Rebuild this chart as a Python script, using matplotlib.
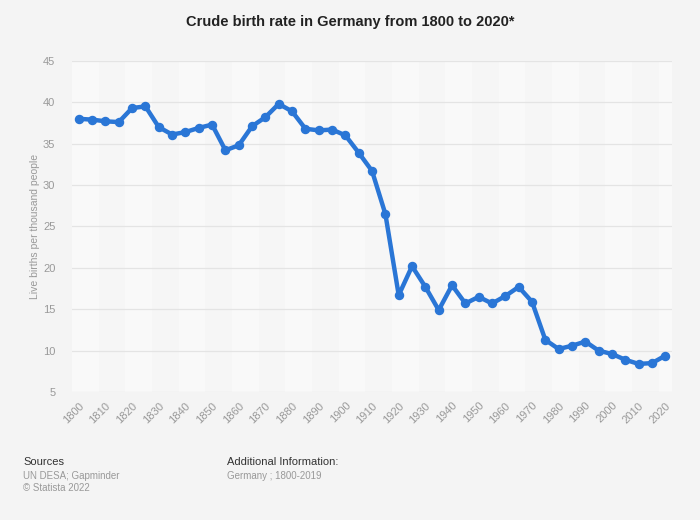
import numpy as np
import matplotlib.pyplot as plt

plt.rcParams['font.family'] = ['Liberation Sans', 'DejaVu Sans']

# -------------------------
# Data
# -------------------------
years = [str(y) for y in range(1800, 2021, 5)]
birth_rate = [38.0, 37.9, 37.7, 37.6, 39.3, 39.5, 37.0, 36.1, 36.4, 36.9,
              37.3, 34.2, 34.8, 37.1, 38.2, 39.8, 38.9, 36.8, 36.6, 36.7,
              36.0, 33.9, 31.7, 26.5, 16.7, 20.2, 17.7, 14.9, 17.9, 15.7,
              16.5, 15.7, 16.6, 17.7, 15.9, 11.3, 10.2, 10.6, 11.1, 10.0,
              9.6, 8.9, 8.4, 8.5, 9.4]
tick_labels = [str(y) for y in range(1800, 2021, 10)]

title = "Crude birth rate in Germany from 1800 to 2020*"
y_label = "Live births per thousand people"

# -------------------------
# Plot
# -------------------------
bg = "#f4f4f4"
line_color = "#2a76d6"

fig = plt.figure(figsize=(7, 5.2), dpi=100, facecolor=bg)
ax = fig.add_axes([0.103, 0.246, 0.857, 0.637])
ax.set_facecolor("#f6f6f6")

x = np.arange(len(years))

# faint alternating background bands
for i in range(0, len(years), 4):
    ax.axvspan(i - 0.5, i + 1.5, color="#f9f9f9", zorder=0, lw=0)

ax.plot(x, birth_rate, color=line_color, lw=3.2, marker="o", ms=5.8,
        zorder=3, solid_joinstyle="round")

ax.set_xlim(-0.5, len(years) - 0.5)
ax.set_ylim(5, 45)
ax.set_yticks(np.arange(5, 46, 5))
ax.set_xticks(x[::2])
ax.set_xticklabels(tick_labels, rotation=45, ha="right", va="top",
                   rotation_mode="anchor")

ax.grid(axis="y", color="#e4e4e4", lw=0.9, zorder=1)
ax.set_axisbelow(True)
for s in ax.spines.values():
    s.set_visible(False)
ax.tick_params(axis="both", length=0, labelsize=8, colors="#999999", pad=6)
ax.tick_params(axis="y", pad=12)

ax.set_ylabel(y_label, fontsize=7.5, color="#999999", labelpad=2)

fig.text(0.5, 0.957, title, ha="center", va="center", fontsize=10.5,
         fontweight="bold", color="#222222")

# footer
fig.text(0.033, 0.105, "Sources", fontsize=8, color="#333333")
fig.text(0.033, 0.079, "UN DESA; Gapminder", fontsize=7, color="#999999")
fig.text(0.033, 0.055, "\u00a9 Statista 2022", fontsize=7, color="#999999")
fig.text(0.324, 0.105, "Additional Information:", fontsize=8, color="#333333")
fig.text(0.324, 0.079, "Germany ; 1800-2019", fontsize=7, color="#999999")

fig.savefig("out.png", dpi=100, facecolor=bg)
plt.close(fig)
